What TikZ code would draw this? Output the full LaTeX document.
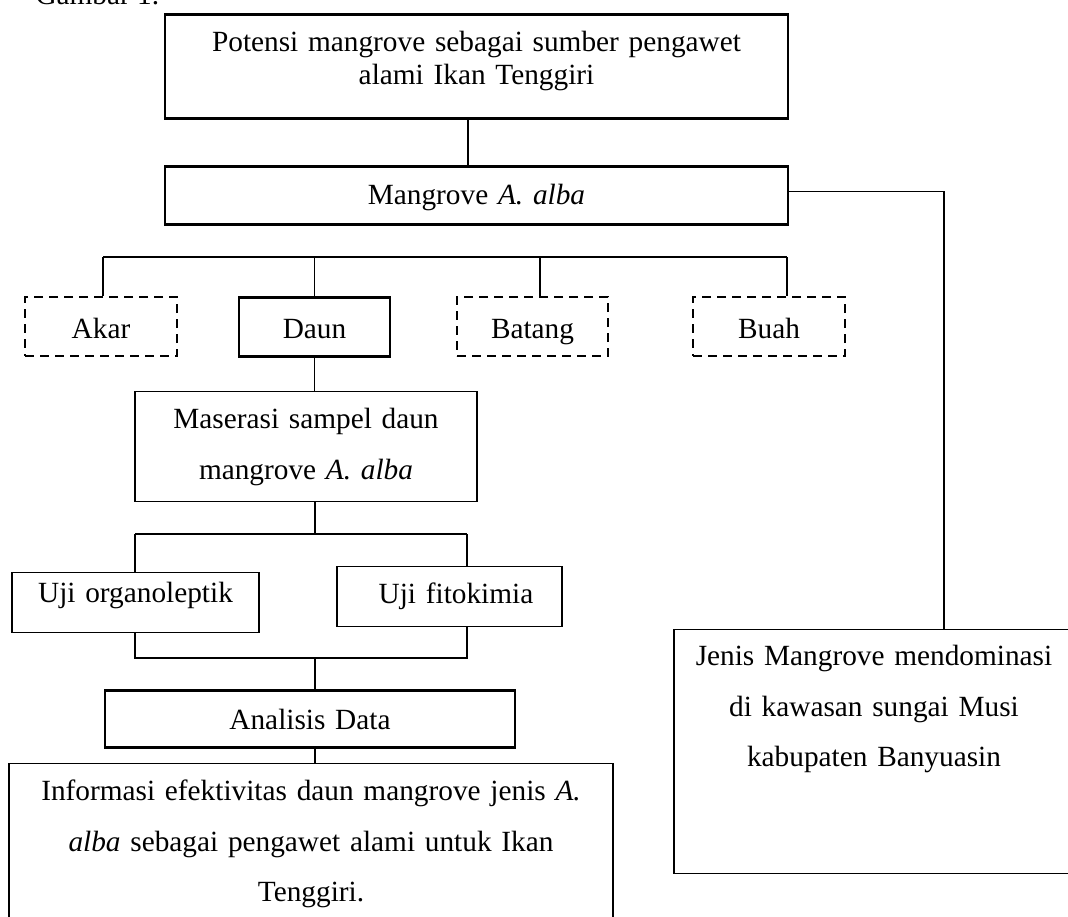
\documentclass[tikz,border=0pt]{standalone}
\usepackage{fontspec}
\setmainfont{Liberation Serif}
\usetikzlibrary{positioning,calc}

\begin{document}
\begin{tikzpicture}[
   x=1pt, y=-1pt,
   font=\fontsize{29.3}{33}\selectfont,
   box/.style     = {draw, line width=1.2pt, inner sep=0pt, anchor=north,
                     align=center},
   boldbox/.style = {box, line width=2.6pt},
   dashbox/.style = {box, line width=2.4pt, dash pattern=on 9pt off 6pt},
   partbox/.style = {text height=41pt, text depth=18pt},
   spaced/.style  = {font=\fontsize{29.3}{50.5}\selectfont},
   ln/.style      = {line width=1.2pt}
]
\useasboundingbox (0,0) rectangle (1068,916);

\node[anchor=base west] (fig) at (32,4) {Gambar 1.};

\node[boldbox, text width=623pt, text height=37pt, text depth=67pt] (potensi) at (476.5,13)
     {Potensi mangrove sebagai sumber pengawet\\ alami Ikan Tenggiri};
\node[boldbox, text width=623pt, text height=38pt, text depth=20pt] (mangrove) at (476.5,165)
     {Mangrove \textit{A. alba}};

\node[dashbox, partbox, text width=152pt] (akar)   at (101,296)   {Akar};
\node[boldbox, partbox, text width=151pt] (daun)   at (314.5,296) {Daun};
\node[dashbox, partbox, text width=151pt] (batang) at (532.5,296) {Batang};
\node[dashbox, partbox, text width=152pt] (buah)   at (769,296)   {Buah};

\node[box, spaced, text width=342pt, text height=37pt, text depth=73pt] (maserasi) at (306,391)
     {Maserasi sampel daun\\ mangrove \textit{A. alba}};

\node[box, text width=247pt, text height=30pt, text depth=30pt] (organo) at (135.5,572)
     {Uji organoleptik\hspace*{14pt}};
\node[box, text width=225pt, text height=37pt, text depth=23pt] (fito) at (449.5,566)
     {\hspace*{13pt}Uji fitokimia};

\node[boldbox, text width=410pt, text height=39pt, text depth=18pt] (analisis) at (310,689)
     {Analisis Data};
\node[box, spaced, text width=604pt, text height=37pt, text depth=130pt] (info) at (311,763)
     {Informasi efektivitas daun mangrove jenis \textit{A.}\\ \textit{alba} sebagai pengawet alami untuk Ikan\\ Tenggiri.};

\node[box, spaced, text width=400pt, text height=36pt, text depth=208pt] (jenis) at (874,629)
     {Jenis Mangrove mendominasi\\ di kawasan sungai Musi\\ kabupaten Banyuasin};

\coordinate (top)  at (468,0);
\coordinate (busL) at (103,257);
\coordinate (busR) at (787,257);
\coordinate (busB) at (540,257);
\coordinate (midA) at (315,534);
\coordinate (b2L)  at (135,534);
\coordinate (b2R)  at (467,534);
\coordinate (midB) at (315,658);
\coordinate (b3L)  at (135,658);
\coordinate (b3R)  at (467,658);

\draw[ln] (top |- potensi.south) -- (top |- mangrove.north);
\draw[ln] ([yshift=4pt]mangrove.east) -| ([xshift=70pt]jenis.north);

\draw[ln] (busL) -- (busR);
\draw[ln] (busL) -- (busL |- akar.north);
\draw[ln] (daun.north |- busL) -- (daun.north);
\draw[ln] (busB) -- (busB |- batang.north);
\draw[ln] (busR) -- (busR |- buah.north);
\draw[ln] (daun.south) -- (daun.south |- maserasi.north);

\draw[ln] (midA |- maserasi.south) -- (midA);
\draw[ln] (b2L) -- (b2R);
\draw[ln] (b2L) -- (b2L |- organo.north);
\draw[ln] (b2R) -- (b2R |- fito.north);

\draw[ln] (b3L |- organo.south) -- (b3L) -- (b3R) -- (b3R |- fito.south);
\draw[ln] (midB) -- (midB |- analisis.north);
\draw[ln] (midB |- analisis.south) -- (midB |- info.north);
\end{tikzpicture}
\end{document}
